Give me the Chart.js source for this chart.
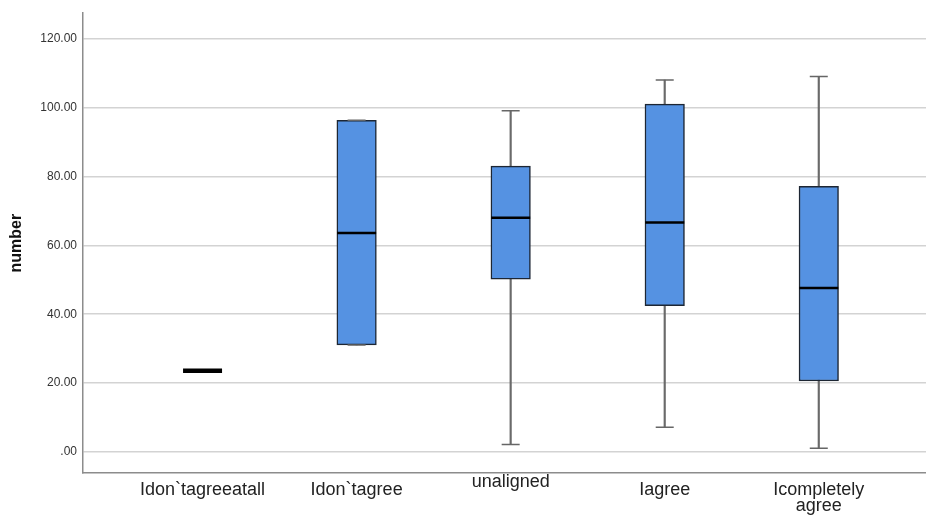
<!DOCTYPE html>
<html>
<head>
<meta charset="utf-8">
<script src="https://cdn.jsdelivr.net/npm/chart.js@4"></script>
<style>
  html, body { margin: 0; padding: 0; background: #fff; }
  #wrap { width: 926px; height: 517px; }
</style>
</head>
<body>
<div id="wrap"><canvas id="box"></canvas></div>
<script>
// values
const categories = ["Idon`tagreeatall", "Idon`tagree", "unaligned", "Iagree", ["Icompletely", "agree"]];
const minVals = [23.6, 31.1, 2.2, 7.2, 1.1];
const q1Vals  = [23.6, 31.1, 50.2, 42.5, 20.6];
const medVals = [23.6, 63.6, 68.0, 66.6, 47.6];
const q3Vals  = [23.6, 96.3, 83.0, 101.0, 77.1];
const maxVals = [23.6, 96.3, 99.1, 108.0, 109.0];
const yTicks = [0, 20, 40, 60, 80, 100, 120];

const xs = categories.map((_, i) => i + 1);
const font = "'Liberation Sans', Arial, sans-serif";

const boxes = xs.map((x, i) => ({ x: x, y: [q1Vals[i], q3Vals[i]] }));
const whiskers = xs.map((x, i) => ({ x: x, y: [minVals[i], maxVals[i]] }));
const medians = xs.map((x, i) => ({ x: x, y: medVals[i] }));
const caps = xs.flatMap((x, i) => [{ x: x, y: minVals[i] }, { x: x, y: maxVals[i] }]);

new Chart(document.getElementById('box'), {
  type: 'bar',
  data: {
    datasets: [
      {
        type: 'scatter', data: medians, order: 0,
        pointStyle: 'line', pointRadius: 19.5, pointHoverRadius: 19.5,
        pointBorderColor: '#000',
        pointBorderWidth: ctx => ctx.dataIndex === 0 ? 4.5 : 2.5
      },
      {
        type: 'scatter', data: caps, order: 1,
        pointStyle: 'line', pointRadius: 9, pointHoverRadius: 9,
        pointBorderColor: '#666', pointBorderWidth: 1.5
      },
      {
        data: boxes, order: 2, grouped: false, barThickness: 39.5,
        backgroundColor: '#5592e2', borderColor: '#1d2633', borderWidth: 1.5,
        borderSkipped: false
      },
      {
        data: whiskers, order: 3, grouped: false, barThickness: 1.5,
        backgroundColor: '#6a6a6a', borderWidth: 0
      }
    ]
  },
  options: {
    responsive: true,
    maintainAspectRatio: false,
    animation: false,
    events: [],
    layout: { autoPadding: false, padding: { top: 10, left: 0, right: 0, bottom: 0 } },
    plugins: { legend: { display: false }, tooltip: { enabled: false } },
    scales: {
      x: {
        type: 'linear',
        offset: false,
        min: 0.224,
        max: 5.696,
        afterFit: s => { s.height = 44; },
        afterBuildTicks: s => { s.ticks = xs.map(v => ({ value: v })); },
        grid: { display: false, drawTicks: false, offset: false },
        border: { display: true, color: '#8c8c8c', width: 1.5 },
        ticks: {
          autoSkip: false,
          maxRotation: 0,
          padding: 9.5,
          color: '#222',
          font: ctx => ({ family: font, size: 18, lineHeight: (ctx.tick && ctx.tick.value === 3) ? '0px' : '16px' }),
          callback: v => categories[v - 1]
        }
      },
      y: {
        min: -6.1,
        max: 127.4,
        afterFit: s => { s.width = 83; },
        afterBuildTicks: s => { s.ticks = yTicks.map(v => ({ value: v })); },
        grid: { color: '#d3d3d3', lineWidth: 1.5, drawTicks: false },
        border: { display: true, color: '#8c8c8c', width: 1.5 },
        ticks: {
          padding: 6,
          color: '#333',
          font: { family: font, size: 12 },
          callback: v => v === 0 ? '.00' : v.toFixed(2)
        },
        title: {
          display: true,
          text: 'number',
          color: '#111',
          font: { family: font, size: 16, weight: 'bold' },
          padding: { top: 7, bottom: 0 }
        }
      }
    }
  }
});
</script>
</body>
</html>
